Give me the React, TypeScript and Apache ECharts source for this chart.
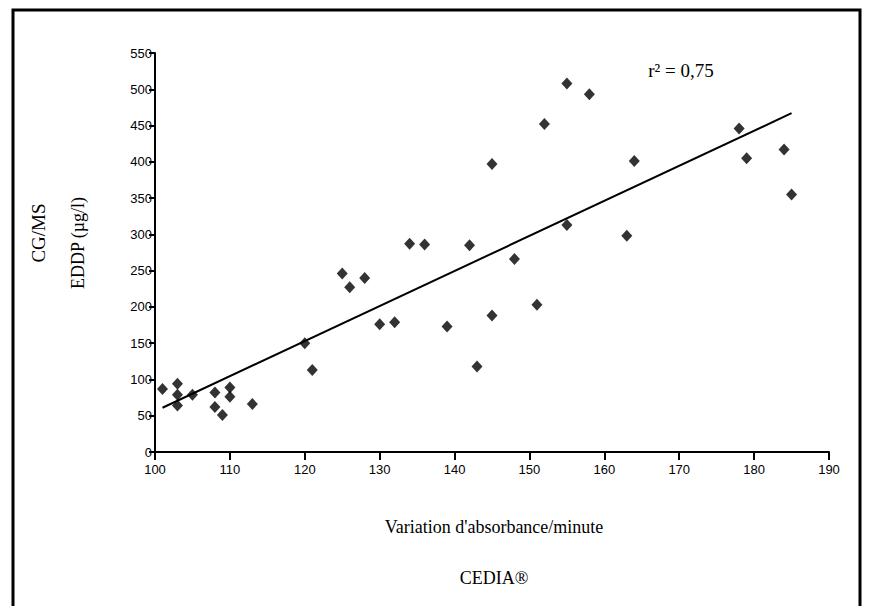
import React, { useEffect, useRef } from "react";
import * as echarts from "echarts";

const absorbance = [101, 103, 103, 103, 105, 108, 108, 109, 110, 110, 113, 120, 121, 125, 126, 128, 130, 132, 134, 136, 139, 142, 143, 145, 145, 148, 151, 152, 155, 155, 158, 163, 164, 178, 179, 184, 185];
const eddp = [87, 94, 79, 64, 79, 82, 62, 51, 89, 76, 66, 150, 113, 246, 227, 240, 176, 179, 287, 286, 173, 285, 118, 188, 397, 266, 203, 452, 313, 508, 493, 298, 401, 446, 405, 417, 355];
const fitX = [101, 185];
const fitY = [61, 467];
const xTitle = "Variation d'absorbance/minute";
const xSubTitle = "CEDIA®";
const yTitle = "CG/MS";
const ySubTitle = "EDDP (µg/l)";
const r2Label = "r² = 0,75";

const SERIF = "'Liberation Serif', 'Times New Roman', serif";
const SANS = "'Liberation Sans Narrow', 'Liberation Sans', Arial, sans-serif";

export default function App() {
  const ref = useRef<HTMLDivElement>(null);
  useEffect(() => {
    if (!ref.current) return;
    const chart = echarts.init(ref.current, null, { renderer: "svg" });
    chart.setOption({
      animation: false,
      backgroundColor: "#ffffff",
      grid: { left: 155, right: 40, top: 53, bottom: 154, containLabel: false },
      xAxis: {
        type: "value",
        min: 100,
        max: 190,
        interval: 10,
        axisLine: { show: true, lineStyle: { color: "#000", width: 2 } },
        axisTick: { show: true, inside: false, length: 8, lineStyle: { color: "#000", width: 2 } },
        axisLabel: { color: "#000", fontFamily: SANS, fontSize: 13, margin: 11 },
        splitLine: { show: false },
      },
      yAxis: {
        type: "value",
        min: 0,
        max: 550,
        interval: 50,
        axisLine: { show: true, lineStyle: { color: "#000", width: 2 } },
        axisTick: { show: true, inside: false, length: 6, lineStyle: { color: "#000", width: 2 } },
        axisLabel: { color: "#000", fontFamily: SANS, fontSize: 13, margin: 3 },
        splitLine: { show: false },
      },
      series: [
        {
          type: "scatter",
          data: absorbance.map((x, i) => [x, eddp[i]]),
          symbol: "diamond",
          symbolSize: [11, 12],
          itemStyle: { color: "#000" },
          z: 3,
        },
        {
          type: "line",
          data: fitX.map((x, i) => [x, fitY[i]]),
          showSymbol: false,
          symbol: "none",
          lineStyle: { color: "#000", width: 2 },
          z: 2,
        },
      ],
      graphic: [
        {
          type: "rect",
          shape: { x: 13, y: 10, width: 847, height: 640 },
          style: { fill: "none", stroke: "#000", lineWidth: 3 },
          silent: true,
        },
        {
          type: "text",
          x: 681,
          y: 70,
          style: { text: r2Label, font: `19px ${SERIF}`, fill: "#000", textAlign: "center", textVerticalAlign: "middle" },
        },
        {
          type: "text",
          x: 494,
          y: 527,
          style: { text: xTitle, font: `18px ${SERIF}`, fill: "#000", textAlign: "center", textVerticalAlign: "middle" },
        },
        {
          type: "text",
          x: 494,
          y: 578,
          style: { text: xSubTitle, font: `18px ${SERIF}`, fill: "#000", textAlign: "center", textVerticalAlign: "middle" },
        },
        {
          type: "text",
          x: 38,
          y: 233,
          rotation: Math.PI / 2,
          style: { text: yTitle, font: `19px ${SERIF}`, fill: "#000", textAlign: "center", textVerticalAlign: "middle" },
        },
        {
          type: "text",
          x: 78,
          y: 243,
          rotation: Math.PI / 2,
          style: { text: ySubTitle, font: `18px ${SERIF}`, fill: "#000", textAlign: "center", textVerticalAlign: "middle" },
        },
      ],
    });
    return () => chart.dispose();
  }, []);
  return (
    <div
      ref={ref}
      style={{ position: "fixed", left: 0, top: 0, width: 869, height: 606, background: "#fff" }}
    />
  );
}
